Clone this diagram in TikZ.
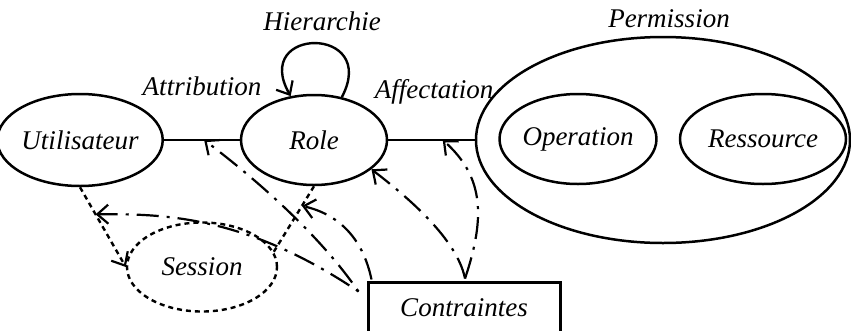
\documentclass[tikz,border=0pt]{standalone}
\usepackage{fontspec}
\newfontfamily\rbacfont{Liberation Serif}[ItalicFont={Liberation Serif Italic}]
\usetikzlibrary{shapes.geometric,arrows.meta,calc}
\begin{document}
\begin{tikzpicture}[x=1pt,y=-1pt,
  font=\rbacfont\fontsize{27}{30}\selectfont\itshape,
  ell/.style={draw,ellipse,line width=2.5pt,inner sep=0pt},
  solidline/.style={line width=2.4pt},
  dots/.style={line width=2.4pt,dash pattern=on 5pt off 4pt},
  dashdot/.style={line width=2.2pt,dash pattern=on 3pt off 8pt on 22pt off 8pt},
  dashdotb/.style={line width=2.2pt,dash pattern=on 22pt off 8pt on 3pt off 8pt},
  tip/.style={-{Straight Barb[length=11pt,width=19pt,line width=2.2pt]}},
  lbl/.style={anchor=base,inner sep=0pt}
]
\path[use as bounding box] (0,0) rectangle (851,330);
\clip (0,0) rectangle (851,330);

% entities
\node[ell,minimum width=146,minimum height=92] (u) at (80,140) {Utilisateur};
\node[ell,minimum width=146,minimum height=90] (r) at (314,140) {Role};
\node[ell,minimum width=374,minimum height=206] (p) at (663,140) {};
\node[ell,minimum width=148,minimum height=90] (o) at (578,139) {Operation};
\node[ell,minimum width=166,minimum height=90] (rs) at (763,139) {Ressource};
\node[ell,dots,minimum width=150,minimum height=89] (s) at (202,267) {Session};
\node[draw,line width=3pt,minimum width=192,minimum height=52,inner sep=0pt] (k) at (464,308) {Contraintes};

% relation names
\node[lbl] (perm) at (669,27) {Permission};
\node[lbl] (hier) at (322,30) {Hierarchie};
\node[lbl] (attr) at (202,95) {Attribution};
\node[lbl] (aff) at (434,98) {Affectation};

% solid relations
\draw[solidline] (u.east) -- coordinate[pos=0.53] (ur) (r.west);
\draw[solidline] (r.east) -- coordinate[pos=0.63] (rp) (p.west);
\draw[solidline,tip] (r.57) .. controls +(38,-72) and +(-40,-70) .. (r.118);

% session links
\draw[dots,tip] (u.south) -- coordinate[pos=0.34] (us) (s.west);
\draw[dots] (r.south) -- coordinate[pos=0.3] (rsx) (s.12);

% constraint links
\coordinate (ka) at ($(k.north west)+(-8,11)$);
\coordinate (kb) at ($(k.north west)+(5,-1)$);
\coordinate (kc) at ($(k.north)+(1,-2)$);
\draw[dashdot,tip] (ka) .. controls +(-42,-61) and +(45,34) .. (ur);
\draw[dashdot,tip] (ka) .. controls +(-110,-74) and +(72,-1) .. (us);
\draw[dashdotb,tip] (kb) .. controls +(-9,-43) and +(35,8) .. (rsx);
\draw[dashdotb,tip] (kc) .. controls +(-8,-40) and +(35,27) .. (r.-27);
\draw[dashdotb,tip] (kc) .. controls +(22,-65) and +(39,35) .. (rp);
\end{tikzpicture}
\end{document}
